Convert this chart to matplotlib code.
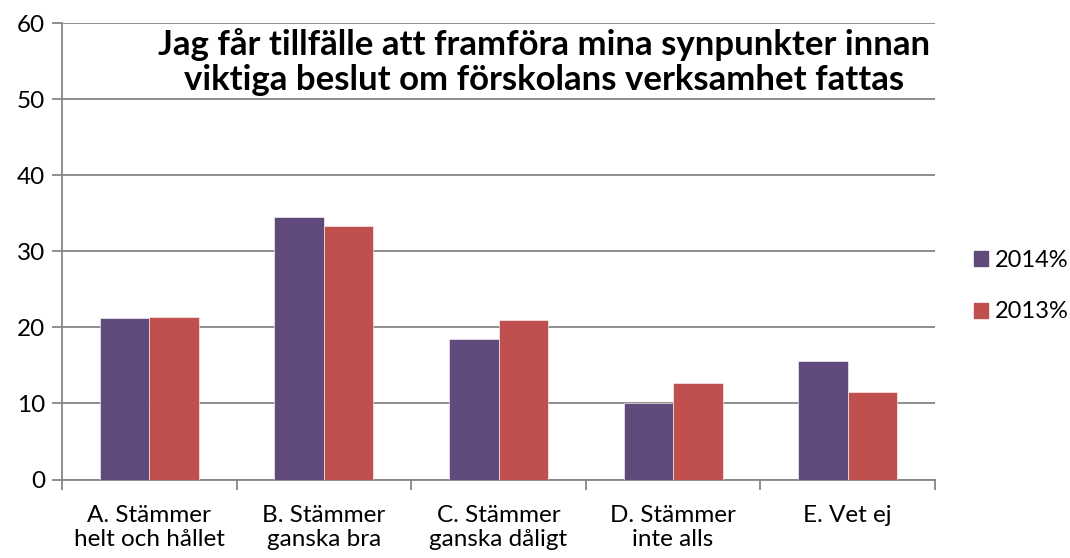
import numpy as np
import matplotlib.pyplot as plt
from matplotlib.patches import Patch

categories = ['A. Stämmer\nhelt och hållet', 'B. Stämmer\nganska bra',
              'C. Stämmer\nganska dåligt', 'D. Stämmer\ninte alls', 'E. Vet ej']
values_2014 = [21.2, 34.5, 18.5, 10.0, 15.6]
values_2013 = [21.3, 33.3, 21.0, 12.7, 11.5]
series_names = ['2014%', '2013%']
title = 'Jag får tillfälle att framföra mina synpunkter innan\nviktiga beslut om förskolans verksamhet fattas'

purple = '#604A7B'
red = '#C0504D'
grid_col = '#868686'

plt.rcParams['font.family'] = ['Lato', 'DejaVu Sans']

fig = plt.figure(figsize=(10.7, 5.58), dpi=100)
ax = fig.add_axes([62 / 1070, 1 - 479.5 / 558, 873 / 1070, 456.5 / 558])

x = np.arange(len(categories))
w = 0.284
ax.bar(x - w / 2, values_2014, w, color=purple, edgecolor='white', linewidth=0.4, zorder=3)
ax.bar(x + w / 2, values_2013, w, color=red, edgecolor='white', linewidth=0.4, zorder=3)

ax.set_xlim(-0.5, len(categories) - 0.5)
ax.set_ylim(0, 60)
ax.set_yticks(range(0, 61, 10))
ax.yaxis.grid(True, color=grid_col, linewidth=1.3, zorder=0)
ax.set_axisbelow(True)

# category boundaries get the tick marks, labels sit on the centres
ax.set_xticks(np.arange(-0.5, len(categories), 1))
ax.set_xticklabels([])
ax.set_xticks(x, minor=True)
ax.set_xticklabels(categories, minor=True, fontsize=17.5, linespacing=1.2)
ax.tick_params(axis='x', which='major', length=7, width=1.3, color=grid_col, direction='out')
ax.tick_params(axis='x', which='minor', length=0, pad=18)
ax.tick_params(axis='y', length=7, width=1.3, color=grid_col, labelsize=17.5, pad=5)

for s in ['top', 'right']:
    ax.spines[s].set_visible(False)
for s in ['left', 'bottom']:
    ax.spines[s].set_color(grid_col)
    ax.spines[s].set_linewidth(1.3)

fig.text(544 / 1070, 1 - 28 / 558, title, ha='center', va='top', fontsize=25,
         fontweight='bold', linespacing=1.1)

handles = [Patch(color=purple), Patch(color=red)]
fig.legend(handles, series_names, loc='center left', bbox_to_anchor=(974 / 1070, 1 - 286 / 558),
           frameon=False, fontsize=17, handlelength=0.6, handleheight=0.6,
           handletextpad=0.3, labelspacing=1.3, borderpad=0, borderaxespad=0)

fig.savefig('out.png', dpi=100)
